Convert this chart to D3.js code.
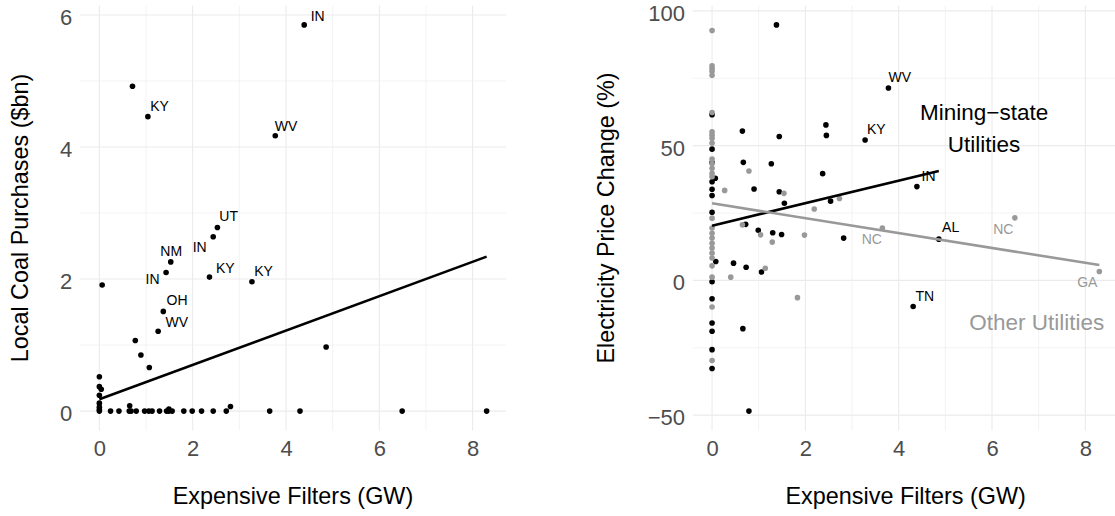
<!DOCTYPE html>
<html>
<head>
<meta charset="utf-8">
<script src="https://cdn.jsdelivr.net/npm/d3@7"></script>
<style>
  body { margin: 0; background: #fff; }
  text { font-family: "Liberation Sans", Arial, Helvetica, sans-serif; }
</style>
</head>
<body>
<svg id="plotSvg" width="1115" height="516"></svg>
<script>
// ---- data ----
const xTicks = [0, 2, 4, 6, 8];
const coalTicks = [0, 2, 4, 6];
const priceTicks = [-50, 0, 50, 100];

// left panel: [filters GW, local coal purchases $bn]
const coalPoints = [
    [4.39, 5.85], [0.71, 4.92], [1.04, 4.46], [3.77, 4.17],
    [2.53, 2.78], [2.44, 2.64], [1.53, 2.26], [1.43, 2.10], [2.36, 2.03], [3.27, 1.96], [0.06, 1.91],
    [1.37, 1.51], [1.26, 1.21], [0.77, 1.07], [0.89, 0.85], [1.07, 0.66], [4.86, 0.97],
    [0, 0.52], [0, 0.37], [0.04, 0.33], [0, 0.24], [0, 0.12], [0, 0.06], [0, 0.02],
    [0.65, 0.08], [2.81, 0.07], [1.49, 0.03],
    [0, 0], [0.24, 0], [0.42, 0], [0.64, 0], [0.68, 0], [0.79, 0], [0.97, 0], [1.06, 0],
    [1.13, 0], [1.29, 0], [1.44, 0], [1.49, 0], [1.56, 0], [1.81, 0], [1.99, 0], [2.19, 0],
    [2.44, 0], [2.72, 0], [3.65, 0], [4.30, 0], [6.49, 0], [8.3, 0]
];
const coalLabels = [
    ["IN", 4.53, 5.91, "start"], ["KY", 1.09, 4.55, "start"], ["WV", 3.76, 4.25, "start"],
    ["UT", 2.57, 2.88, "start"], ["IN", 2.30, 2.41, "end"], ["NM", 1.54, 2.35, "middle"],
    ["IN", 1.29, 1.92, "end"], ["KY", 2.50, 2.09, "start"], ["KY", 3.32, 2.05, "start"],
    ["OH", 1.44, 1.61, "start"], ["WV", 1.42, 1.27, "start"]
];
const coalFit = [[0, 0.18], [8.3, 2.34]];

// right panel: [filters GW, electricity price change %]
const miningPoints = [
    [1.38, 94.8], [3.78, 71.4], [0, 61.5], [0.65, 55.4], [2.44, 57.7], [2.45, 53.8], [1.44, 53.4],
    [3.28, 52.1], [0, 48.7], [0, 43.7], [0.67, 43.8], [1.27, 43.3], [2.37, 39.6], [0.07, 37.9],
    [0, 36.6], [0, 33.8], [0.9, 33.9], [1.44, 32.9], [4.39, 34.8], [1.55, 28.6], [2.54, 29.4],
    [0, 31.5], [0, 25.3], [0.72, 20.8], [0.99, 18.6], [1.30, 17.7], [1.49, 17.0], [2.82, 15.7],
    [4.86, 15.3], [0.08, 7.0], [0.46, 6.4], [0.73, 4.9], [1.06, 3.1], [0, -0.5], [0, -6.8],
    [4.31, -9.7], [0, -15.8], [0, -18.9], [0.66, -17.9], [0, -25.7], [0, -32.7], [0.79, -48.5]
];
const otherPoints = [
    [0, 92.7], [0, 79.6], [0, 78.6], [0, 77.6], [0, 76.1], [0, 62.3], [0, 55.1], [0, 53.9],
    [0, 52.7], [0, 51.0], [0, 45.0], [0, 43.4], [0, 41.6], [0, 39.7], [0, 38.5], [0.79, 40.6],
    [0.27, 33.4], [1.54, 32.3], [2.73, 30.4], [2.19, 26.5], [0, 23.1], [0, 19.4], [0, 17.5],
    [0, 15.7], [0, 13.8], [0, 12.0], [0, 10.1], [0, 8.3], [0, 5.4], [0.65, 20.6], [1.04, 16.9],
    [1.29, 14.2], [1.98, 16.8], [3.65, 19.4], [6.49, 23.2], [8.3, 3.3], [1.14, 4.5], [0.40, 1.2],
    [0, 1.2], [1.83, -6.4], [0, -9.9], [0, -29.7]
];
const miningLabels = [
    ["WV", 3.78, 73.7, "start"], ["KY", 3.32, 54.2, "start"], ["IN", 4.49, 36.8, "start"],
    ["AL", 4.93, 17.9, "start"], ["TN", 4.36, -7.7, "start"]
];
const otherLabels = [
    ["NC", 3.64, 13.4, "end"], ["NC", 6.46, 17.1, "end"], ["GA", 8.26, -2.5, "end"]
];
const miningFit = [[0, 20.3], [4.86, 40.6]];
const otherFit = [[0, 28.6], [8.3, 5.7]];
const notes = [
    {lines: ["Mining\u2212state", "Utilities"], x: 5.83, y: 59.5, color: "#000"},
    {lines: ["Other Utilities"], x: 6.96, y: -18.3, color: "#999999"}
];

// ---- drawing ----
const svg = d3.select("#plotSvg");
const panelTop = 5.6, panelBottom = 430.4;
const grey = "#999999";

function expand(ext) {
    var pad = (ext[1] - ext[0]) * 0.05;
    return [ext[0] - pad, ext[1] + pad];
}

function minors(ticks, domain) {
    var step = ticks[1] - ticks[0];
    var out = [];
    for (let t = ticks[0] - step / 2; t <= domain[1]; t += step) {
        if (t >= domain[0]) out.push(t);
    }
    return out;
}

function drawPanel(cfg) {
    var allX = cfg.series.flatMap(s => s.points.map(d => d[0]));
    var allY = cfg.series.flatMap(s => s.points.map(d => d[1]));
    var x = d3.scaleLinear().domain(expand([0, d3.max(allX)])).range([cfg.left, cfg.left + 426]);
    var y = d3.scaleLinear().domain(expand(d3.extent(allY))).range([panelBottom, panelTop]);

    var g = svg.append("g");
    var grid = g.append("g").attr("stroke", "#ebebeb").attr("fill", "none");

    minors(xTicks, x.domain()).forEach(t => {
        grid.append("line").attr("x1", x(t)).attr("x2", x(t)).attr("y1", panelTop).attr("y2", panelBottom).attr("stroke-width", 0.6);
    });
    minors(cfg.yTicks, y.domain()).forEach(t => {
        grid.append("line").attr("x1", x.range()[0]).attr("x2", x.range()[1]).attr("y1", y(t)).attr("y2", y(t)).attr("stroke-width", 0.6);
    });
    xTicks.forEach(t => {
        grid.append("line").attr("x1", x(t)).attr("x2", x(t)).attr("y1", panelTop).attr("y2", panelBottom).attr("stroke-width", 1.1);
    });
    cfg.yTicks.forEach(t => {
        grid.append("line").attr("x1", x.range()[0]).attr("x2", x.range()[1]).attr("y1", y(t)).attr("y2", y(t)).attr("stroke-width", 1.1);
    });

    // axes
    var xAxis = g.append("g")
        .attr("transform", "translate(0," + panelBottom + ")")
        .call(d3.axisBottom(x).tickValues(xTicks).tickSize(0).tickPadding(9.8).tickFormat(d3.format("d")));
    var yAxis = g.append("g")
        .attr("transform", "translate(" + x.range()[0] + ",0)")
        .call(d3.axisLeft(y).tickValues(cfg.yTicks).tickSize(0).tickPadding(7.7).tickFormat(d3.format("d")));
    [xAxis, yAxis].forEach(a => {
        a.select(".domain").remove();
        a.selectAll("text").attr("font-size", 22).attr("fill", "#4d4d4d")
            .attr("font-family", "'Liberation Sans', Arial, sans-serif");
    });
    yAxis.selectAll("text").attr("dy", "0.43em");

    g.append("text")
        .attr("x", (x.range()[0] + x.range()[1]) / 2)
        .attr("y", 504)
        .attr("text-anchor", "middle")
        .attr("font-size", 23.4)
        .text("Expensive Filters (GW)");
    g.append("text")
        .attr("transform", "translate(" + cfg.titleX + "," + (panelTop + panelBottom) / 2 + ") rotate(-90)")
        .attr("text-anchor", "middle")
        .attr("font-size", 23.4)
        .text(cfg.yTitle);

    // points
    cfg.series.forEach(s => {
        g.append("g").selectAll("circle")
            .data(s.points)
            .enter().append("circle")
            .attr("cx", d => x(d[0]))
            .attr("cy", d => y(d[1]))
            .attr("r", 2.8)
            .attr("fill", s.color);
    });

    // fitted lines
    var line = d3.line().x(d => x(d[0])).y(d => y(d[1]));
    cfg.series.forEach(s => {
        g.append("path")
            .attr("d", line(s.fit))
            .attr("fill", "none")
            .attr("stroke", s.color)
            .attr("stroke-width", 2.6);
    });

    // state labels
    cfg.series.forEach(s => {
        g.append("g").selectAll("text")
            .data(s.labels)
            .enter().append("text")
            .attr("x", d => x(d[1]))
            .attr("y", d => y(d[2]))
            .attr("text-anchor", d => d[3])
            .attr("font-size", 14)
            .attr("fill", s.color)
            .text(d => d[0]);
    });

    // annotations
    (cfg.notes || []).forEach(n => {
        var t = g.append("text")
            .attr("x", x(n.x))
            .attr("y", y(n.y))
            .attr("text-anchor", "middle")
            .attr("font-size", 22.5)
            .attr("fill", n.color);
        n.lines.forEach((l, i) => {
            t.append("tspan").attr("x", x(n.x)).attr("dy", i == 0 ? 0 : 32.3).text(l);
        });
    });
}

svg.append("rect").attr("width", 1115).attr("height", 516).attr("fill", "#fff");

drawPanel({
    left: 80,
    yTicks: coalTicks,
    yTitle: "Local Coal Purchases ($bn)",
    titleX: 27.8,
    series: [{points: coalPoints, labels: coalLabels, fit: coalFit, color: "#000"}]
});

drawPanel({
    left: 692.7,
    yTicks: priceTicks,
    yTitle: "Electricity Price Change (%)",
    titleX: 613.5,
    series: [
        {points: miningPoints, labels: miningLabels, fit: miningFit, color: "#000"},
        {points: otherPoints, labels: otherLabels, fit: otherFit, color: grey}
    ],
    notes: notes
});
</script>
</body>
</html>
